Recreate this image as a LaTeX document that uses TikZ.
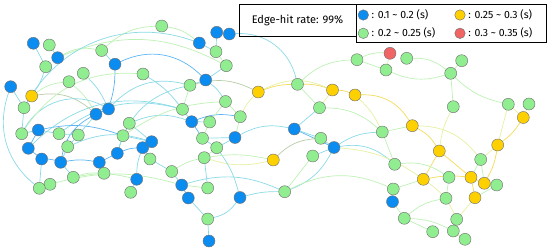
\documentclass[tikz,border=0pt]{standalone}
\usepackage{fontspec}
\setmainfont{Fira Sans}
\usetikzlibrary{backgrounds}
\definecolor{nb}{HTML}{0A8CF0}
\definecolor{ng}{HTML}{90EE90}
\definecolor{ny}{HTML}{FFD000}
\definecolor{nr}{HTML}{F06464}
\definecolor{cC}{HTML}{8ADAE6}
\definecolor{cB}{HTML}{5CB4F2}
\definecolor{cG}{HTML}{BDF2B4}
\definecolor{cY}{HTML}{F2DC5A}
\definecolor{cL}{HTML}{E6F0A0}
\definecolor{cK}{HTML}{B8CCA8}
\tikzset{
 nd/.style={circle, draw=black!55, line width=0.45pt, minimum size=12pt, inner sep=0pt},
 nB/.style={nd, fill=nb}, nG/.style={nd, fill=ng}, nY/.style={nd, fill=ny}, nR/.style={nd, fill=nr},
 lg/.style={nd, minimum size=10.5pt},
 ed/.style={line width=0.7pt},
 eC/.style={ed, draw=cC}, eB/.style={ed, draw=cB}, eG/.style={ed, draw=cG},
 eY/.style={ed, draw=cY}, eL/.style={ed, draw=cL}, eK/.style={ed, draw=cK},
 box/.style={draw=black, line width=0.8pt, inner sep=0pt},
 lt/.style={anchor=west, font=\fontsize{10.5}{12}\selectfont, inner sep=0pt}
}
\begin{document}
\begin{tikzpicture}[x=1pt,y=-1pt]
\useasboundingbox (0,0) rectangle (550,252);
% blue nodes
\node[nB] (b1) at (33.3,43.3) {};
\node[nB] (b2) at (57.7,57.7) {};
\node[nB] (b3) at (115,64.2) {};
\node[nB] (b4) at (199.3,43) {};
\node[nB] (b5) at (216.7,32.3) {};
\node[nB] (b6) at (229.3,34) {};
\node[nB] (b7) at (205.7,80) {};
\node[nB] (b8) at (10.7,86.7) {};
\node[nB] (b9) at (96,114.2) {};
\node[nB] (b10) at (108.5,109) {};
\node[nB] (b11) at (191.7,121.7) {};
\node[nB] (b12) at (38.3,130) {};
\node[nB] (b13) at (28.3,148.3) {};
\node[nB] (b14) at (41.7,159) {};
\node[nB] (b15) at (60.7,162.3) {};
\node[nB] (b16) at (99.3,162.3) {};
\node[nB] (b17) at (117.3,153.3) {};
\node[nB] (b18) at (142.7,147.7) {};
\node[nB] (b19) at (151.7,141.7) {};
\node[nB] (b20) at (136.7,179.3) {};
\node[nB] (b21) at (181.7,185) {};
\node[nB] (b22) at (188.3,198) {};
\node[nB] (b23) at (235,137.5) {};
\node[nB] (b24) at (240,197.5) {};
\node[nB] (b25) at (209,241) {};
\node[nB] (b26) at (294.3,129) {};
\node[nB] (b27) at (334,147.5) {};
\node[nB] (b28) at (392.5,201.7) {};
% green nodes
\node[nG] (g1) at (161.7,26) {};
\node[nG] (g2) at (49.3,45) {};
\node[nG] (g3) at (101.7,50.5) {};
\node[nG] (g4) at (45.7,66.7) {};
\node[nG] (g5) at (83.3,73.3) {};
\node[nG] (g6) at (143,74) {};
\node[nG] (g7) at (69,81.7) {};
\node[nG] (g8) at (24,107.7) {};
\node[nG] (g9) at (216,51.7) {};
\node[nG] (g10) at (226.3,65.7) {};
\node[nG] (g11) at (190,85.3) {};
\node[nG] (g12) at (225.5,101.5) {};
\node[nG] (g13) at (182.5,109.3) {};
\node[nG] (g14) at (129.3,123.3) {};
\node[nG] (g15) at (123,135.7) {};
\node[nG] (g16) at (21.7,133.7) {};
\node[nG] (g17) at (59,133.7) {};
\node[nG] (g18) at (78.3,135) {};
\node[nG] (g19) at (67.7,146.7) {};
\node[nG] (g20) at (150,159) {};
\node[nG] (g21) at (104,173.3) {};
\node[nG] (g22) at (73.3,177.3) {};
\node[nG] (g23) at (50,184.3) {};
\node[nG] (g24) at (39.3,188.3) {};
\node[nG] (g25) at (130.7,192.3) {};
\node[nG] (g26) at (171.7,171.5) {};
\node[nG] (g27) at (209.7,122) {};
\node[nG] (g28) at (240.3,116.7) {};
\node[nG] (g29) at (202.5,138.3) {};
\node[nG] (g30) at (216.7,147.7) {};
\node[nG] (g31) at (204.2,157.7) {};
\node[nG] (g32) at (207.7,188) {};
\node[nG] (g33) at (207.7,219) {};
\node[nG] (g34) at (284.7,191.7) {};
\node[nG] (g35) at (297.5,84.3) {};
\node[nG] (g36) at (319.5,107.7) {};
\node[nG] (g37) at (320.8,138.3) {};
\node[nG] (g38) at (312.7,156) {};
\node[nG] (g39) at (357,59.7) {};
\node[nG] (g40) at (406.7,58.3) {};
\node[nG] (g41) at (386,70) {};
\node[nG] (g42) at (461.7,60.7) {};
\node[nG] (g43) at (450.7,73.3) {};
\node[nG] (g44) at (453.3,106.7) {};
\node[nG] (g45) at (508.3,104.3) {};
\node[nG] (g46) at (529,104) {};
\node[nG] (g47) at (382.3,132) {};
\node[nG] (g48) at (480.7,159.5) {};
\node[nG] (g49) at (394.7,164.3) {};
\node[nG] (g50) at (449,177.3) {};
\node[nG] (g51) at (496.7,185) {};
\node[nG] (g52) at (393.3,189) {};
\node[nG] (g53) at (446,198.3) {};
\node[nG] (g54) at (404.3,218.3) {};
\node[nG] (g55) at (456.7,219.3) {};
\node[nG] (g56) at (432.7,231.7) {};
\node[nG] (g57) at (453.3,231) {};
\node[nG] (g58) at (465,239.3) {};
% yellow and red nodes
\node[nY] (y1) at (31.7,96) {};
\node[nY] (y2) at (258.3,92) {};
\node[nY] (y3) at (332.5,90) {};
\node[nY] (y4) at (355,95) {};
\node[nY] (y5) at (273.3,160) {};
\node[nY] (y6) at (412.3,125.7) {};
\node[nY] (y7) at (439.3,151) {};
\node[nY] (y8) at (497.7,145) {};
\node[nY] (y9) at (523.3,117.5) {};
\node[nY] (y10) at (423.3,179.3) {};
\node[nY] (y11) at (471,177.3) {};
\node[nY] (y12) at (484.3,183.3) {};
\node[nY] (y13) at (475,197.7) {};
\node[nR] (r1) at (390,53.3) {};
% legend
\node[box, minimum width=117pt, minimum height=32pt] (hit) at (297.5,20) {\fontsize{11}{13}\selectfont Edge-hit rate: 99\%};
\node[box, minimum width=190pt, minimum height=38.7pt] (leg) at (451,23.35) {};
\node[lg, fill=nb] (l1) at (363.3,15) {};
\node[lg, fill=ng] (l2) at (363.3,33.3) {};
\node[lg, fill=ny] (l3) at (460,15) {};
\node[lg, fill=nr] (l4) at (460,33.3) {};
\node[lt] (t1) at (371.5,15) {: 0.1 \char`\~{} 0.2 (s)};
\node[lt] (t2) at (371.5,33.3) {: 0.2 \char`\~{} 0.25 (s)};
\node[lt] (t3) at (468.2,15) {: 0.25 \char`\~{} 0.3 (s)};
\node[lt] (t4) at (468.2,33.3) {: 0.3 \char`\~{} 0.35 (s)};
\begin{scope}[on background layer]
% left cluster
\draw[eC] (b1) -- (g4);
\draw[eC] (g4) to[bend left=8] (y1);
\draw[eC] (y1) -- (g8);
\draw[eG] (y1) to[bend left=15] (g7);
\draw[eK] (y1) to[bend left=25] (b9);
\draw[eG] (b2) to[bend left=20] (g3);
\draw[eC] (g3) -- (b3);
\draw[eG] (g3) to[bend left=20] (g1);
\draw[eB] (b3) to[bend left=8] (b10);
\draw[eB] (b3) to[bend left=35] (b7);
\draw[eG] (b2) to[bend left=25] (g10);
\draw[eC] (g5) to[bend left=10] (b10);
\draw[eG] (g7) to[bend left=10] (b9);
\draw[eC] (g6) to[bend left=10] (g13);
\draw[eG] (g1) to[bend left=15] (b4);
\draw[eC] (b4) -- (g9);
\draw[eC] (b5) -- (g9);
\draw[eB] (b5) -- (b6);
\draw[eG] (g9) -- (g10);
\draw[eC] (g10) -- (b7);
\draw[eC] (b7) -- (g11);
\draw[eC] (b7) to[bend left=10] (g12);
\draw[eC] (g11) to[bend right=30] (b10);
\draw[eG] (g11) -- (g13);
\draw[eC] (b4) to[bend right=40] (g8);
\draw[eC] (b6) to[bend left=40] (g35);
\draw[eC] (g13) -- (b11);
\draw[eC] (b11) -- (g27);
\draw[eB] (b11) to[bend left=15] (g28);
\draw[eG] (g12) -- (g27);
\draw[eG] (g12) -- (g28);
\draw[eL] (g28) to[bend left=10] (y2);
\draw[eK] (y2) to[bend right=20] (g11);
\draw[eC] (b8) -- (g8);
\draw[eC] (g8) -- (g16);
\draw[eC] (g16) to[bend left=45] (b10);
\draw[eC] (g17) to[bend left=25] (g13);
\draw[eB] (b12) to[bend left=15] (g15);
\draw[eC] (g19) to[bend left=20] (b19);
\draw[eC] (b8) to[bend right=35] (g24);
\draw[eC] (b12) -- (g16);
\draw[eC] (b12) -- (g17);
\draw[eB] (b12) -- (b13);
\draw[eB] (b13) -- (b14);
\draw[eB] (b14) to[bend left=10] (b15);
\draw[eC] (b15) -- (g19);
\draw[eB] (b15) to[bend left=10] (b16);
\draw[eB] (b16) -- (b17);
\draw[eC] (b16) -- (g21);
\draw[eC] (b17) -- (g15);
\draw[eB] (b17) to[bend left=10] (b18);
\draw[eB] (b18) -- (b19);
\draw[eC] (b19) -- (g14);
\draw[eC] (b19) -- (g15);
\draw[eC] (b18) -- (g20);
\draw[eC] (b18) to[bend right=10] (b20);
\draw[eC] (b20) -- (g25);
\draw[eC] (g20) -- (g26);
\draw[eC] (g26) -- (b21);
\draw[eB] (b21) -- (b22);
\draw[eB] (b9) to[bend right=25] (b15);
\draw[eC] (b14) -- (g24);
\draw[eG] (g23) -- (g24);
\draw[eC] (g22) -- (b15);
\draw[eG] (g22) to[bend left=10] (g21);
\draw[eC] (g18) -- (g19);
\draw[eC] (g17) -- (g18);
\draw[eC] (g18) -- (b9);
\draw[eB] (b10) -- (b9);
\draw[eB] (b11) -- (g29);
\draw[eC] (g29) -- (g30);
\draw[eG] (g30) -- (g31);
\draw[eG] (b21) -- (g32);
\draw[eC] (g32) -- (g31);
\draw[eG] (g26) to[bend left=10] (g31);
\draw[eG] (g22) to[bend left=12] (b20);
\draw[eG] (g23) to[bend left=15] (b21);
\draw[eC] (b23) -- (g29);
\draw[eG] (b23) -- (g28);
\draw[eC] (b23) -- (g30);
\draw[eG] (g27) -- (g29);
\draw[eC] (g14) to[bend left=20] (b11);
\draw[eC] (b13) to[bend left=30] (g13);
\draw[eG] (g15) to[bend left=15] (g12);
\draw[eC] (b17) to[bend left=30] (g11);
\draw[eG] (g16) to[bend left=30] (g6);
\draw[eC] (g2) -- (b2);
% middle
\draw[eY] (y2) to[bend left=10] (g35);
\draw[eY] (g35) to[bend left=10] (y3);
\draw[eY] (y3) to[bend left=10] (y4);
\draw[eL] (y2) to[bend left=25] (y3);
\draw[eG] (g35) to[bend left=20] (g39);
\draw[eG] (g35) -- (g36);
\draw[eL] (g36) -- (y3);
\draw[eC] (g36) -- (b26);
\draw[eG] (g36) to[bend left=20] (g47);
\draw[eY] (y4) to[bend left=30] (y6);
\draw[eB] (b26) -- (b27);
\draw[eC] (b26) -- (g37);
\draw[eC] (b27) -- (g37);
\draw[eC] (b27) -- (g38);
\draw[eC] (b27) to[bend left=25] (g49);
\draw[eC] (b27) to[bend left=20] (g34);
\draw[eG] (g38) -- (g34);
\draw[eL] (b27) to[bend left=15] (y10);
\draw[eK] (y5) to[bend left=20] (g37);
\draw[eL] (y5) to[bend left=15] (g31);
\draw[eC] (g34) to[bend right=8] (b24);
\draw[eC] (b23) to[bend left=20] (b26);
\draw[eC] (b24) to[bend right=10] (g30);
\draw[eC] (g33) -- (b25);
\draw[eC] (g33) -- (b22);
\draw[eC] (g33) to[bend right=20] (b24);
\draw[eC] (b21) to[bend left=20] (g34);
\draw[eG] (g34) to[bend left=25] (g52);
\draw[eG] (g31) to[bend left=10] (y5);
\draw[eC] (g47) to[bend right=15] (b27);
% right cluster
\draw[eG] (g39) to[bend left=15] (r1);
\draw[eG] (g39) -- (g41);
\draw[eL] (r1) -- (g41);
\draw[eG] (g41) to[bend right=20] (g43);
\draw[eG] (g40) to[bend left=20] (g43);
\draw[eG] (g42) -- (g43);
\draw[eG] (g43) -- (g44);
\draw[eG] (g43) to[bend right=15] (g45);
\draw[eL] (g45) -- (y9);
\draw[eL] (g46) -- (y9);
\draw[eY] (y9) to[bend left=10] (y8);
\draw[eL] (g45) -- (y8);
\draw[eL] (y8) -- (g48);
\draw[eY] (y8) to[bend left=10] (y12);
\draw[eL] (g44) to[bend right=10] (y7);
\draw[eG] (g47) -- (y6);
\draw[eL] (y6) to[bend left=25] (g48);
\draw[eY] (y6) to[bend left=15] (y7);
\draw[eY] (y7) -- (y10);
\draw[eY] (y7) -- (y11);
\draw[eY] (y10) to[bend left=8] (y11);
\draw[eG] (g48) -- (y11);
\draw[eG] (g48) -- (y12);
\draw[eY] (y11) -- (y12);
\draw[eG] (y12) -- (g51);
\draw[eG] (y13) -- (g51);
\draw[eL] (y13) -- (g55);
\draw[eY] (y11) -- (y13);
\draw[eG] (g50) -- (g53);
\draw[eG] (g49) to[bend left=20] (g50);
\draw[eG] (g52) -- (y10);
\draw[eG] (b28) -- (g54);
\draw[eG] (g54) to[bend left=15] (g53);
\draw[eG] (g54) to[bend left=12] (g57);
\draw[eG] (g55) -- (g57);
\draw[eG] (g57) -- (g58);
\draw[eG] (g56) -- (g54);
\draw[eL] (y10) to[bend left=15] (g55);
\draw[eG] (g49) -- (g47);
\draw[eL] (y4) to[bend left=10] (g47);
\end{scope}
\end{tikzpicture}
\end{document}
